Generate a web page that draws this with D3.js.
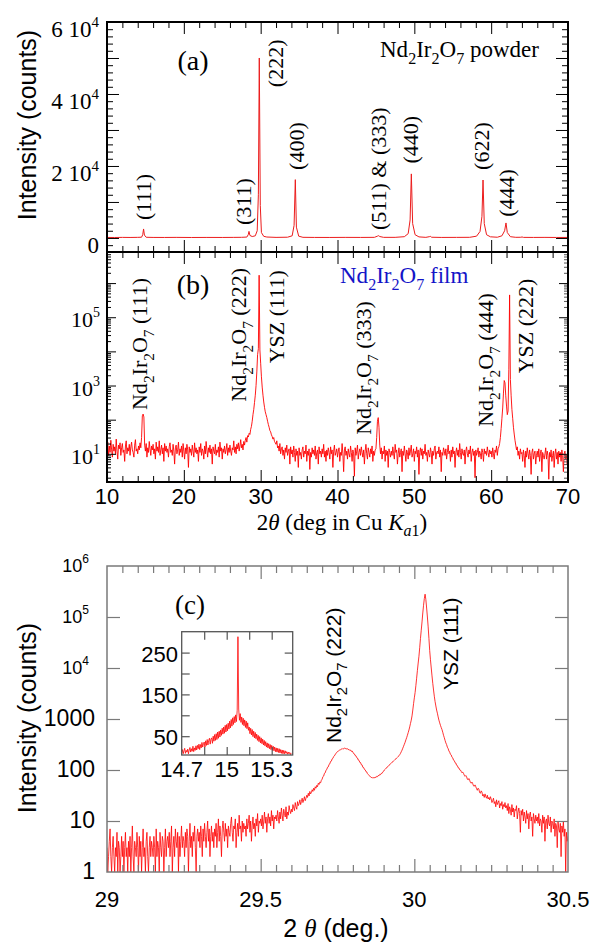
<!DOCTYPE html>
<html>
<head>
<meta charset="utf-8">
<script src="https://cdn.jsdelivr.net/npm/d3@7"></script>
<style>
body { margin: 0; background: #fff; }
</style>
</head>
<body>
<script>
// ---- (a) powder pattern: 2theta (deg) / counts
const powderTheta = [10, 11, 12, 13, 14, 14.5, 14.65, 14.76, 14.87, 15.1, 16, 17.5, 19, 21, 23,
  25, 26.5, 27.5, 28.2, 28.38, 28.48, 28.6, 28.9, 29.3, 29.55, 29.7, 29.82, 29.95, 30.1, 30.4,
  30.8, 32, 33.5, 34.1, 34.35, 34.51, 34.65, 34.95, 35.5, 37, 39, 41, 43, 44.8, 45.2,
  45.35, 45.5, 46, 47.5, 48.7, 49.2, 49.45, 49.61, 49.78, 50.1, 50.6, 51.5, 51.95, 52.08, 52.25,
  53.5, 55.5, 57.2, 58.1, 58.55, 58.8, 58.94, 59.1, 59.4, 59.9, 60.8, 61.4, 61.75, 61.93, 62.1,
  62.5, 63.2, 63.85, 64.02, 64.2, 65.5, 67, 68.5, 70];
const powderCounts = [150, 130, 160, 140, 170, 210, 900, 2500, 800, 190, 150, 140, 160, 130, 150,
  140, 160, 180, 250, 900, 1830, 700, 400, 600, 2000, 12000, 50000, 9000, 1500, 450,
  260, 160, 210, 600, 3500, 16200, 3000, 500, 180, 150, 140, 160, 150, 170, 500,
  640, 400, 170, 170, 350, 1200, 5000, 17800, 4000, 900, 300, 170, 350, 450, 200,
  150, 160, 180, 500, 1800, 6000, 16100, 4000, 900, 320, 200, 600, 2000, 4170, 1500,
  350, 180, 190, 280, 160, 150, 160, 140, 150];

// ---- (b) film scan, 10 -> 70 deg in 0.1 deg steps (one row = 1 deg)
const filmScan = [10, 0.1];
const filmCounts = [
  14, 22, 9, 17, 11, 25, 13, 8, 19, 12,
  16, 10, 27, 12, 7, 18, 14, 21, 9, 15,
  20, 11, 13, 6, 17, 24, 10, 15, 12, 19,
  9, 16, 22, 13, 11, 8, 18, 26, 12, 14,
  10, 17, 13, 21, 15, 30, 130, 146, 120, 18,
  12, 20, 8, 15, 11, 23, 14, 9, 17, 13,
  19, 10, 14, 7, 22, 12, 16, 11, 24, 9,
  13, 18, 10, 15, 6, 20, 12, 17, 11, 14,
  8, 16, 21, 11, 13, 9, 19, 12, 5, 15,
  18, 10, 13, 22, 9, 14, 11, 17, 8, 20,
  12, 7, 15, 10, 19, 13, 4, 16, 11, 14,
  9, 18, 12, 8, 21, 11, 15, 10, 13, 6,
  16, 11, 20, 9, 14, 12, 7, 17, 10, 23,
  13, 8, 15, 11, 18, 10, 14, 5, 16, 12,
  10, 19, 9, 13, 11, 16, 8, 22, 12, 15,
  7, 14, 11, 17, 10, 13, 20, 9, 15, 11,
  18, 12, 9, 15, 13, 24, 11, 16, 10, 19,
  14, 21, 12, 17, 26, 15, 19, 13, 23, 18,
  25, 30, 22, 34, 31, 40, 37, 52, 64, 90,
  140, 200, 320, 520, 1000, 2500, 8000, 12000, 1700000, 11000,
  4500, 1800, 900, 520, 330, 230, 170, 140, 115, 90,
  72, 60, 48, 44, 36, 32, 27, 30, 23, 21,
  19, 24, 15, 17, 12, 20, 10, 14, 16, 9,
  13, 7, 15, 11, 18, 9, 12, 14, 5, 16,
  10, 13, 8, 17, 11, 6, 14, 9, 12, 4,
  15, 9, 11, 7, 13, 16, 8, 12, 10, 18,
  6, 12, 9, 14, 3.5, 11, 8, 15, 10, 13,
  9, 17, 7, 11, 13, 5, 16, 10, 12, 8,
  14, 10, 19, 8, 12, 6, 13, 9, 15, 11,
  7, 16, 10, 13, 4, 12, 18, 9, 11, 14,
  8, 12, 15, 6, 11, 9, 20, 10, 3, 13,
  16, 9, 12, 7, 14, 10, 8, 17, 11, 6,
  13, 10, 2.2, 15, 9, 12, 18, 7, 11, 14,
  9, 16, 11, 8, 13, 5, 12, 19, 10, 7,
  15, 11, 8, 14, 10, 17, 6, 12, 9, 13,
  14, 30, 90, 115, 60, 18, 10, 15, 7, 12,
  10, 17, 6, 13, 9, 12, 4, 14, 11, 8,
  12, 9, 16, 10, 7, 19, 11, 13, 5, 10,
  15, 8, 11, 14, 3, 12, 9, 17, 10, 6,
  13, 11, 7, 15, 9, 12, 18, 8, 10, 14,
  6, 12, 10, 16, 8, 13, 2.5, 11, 15, 9,
  14, 7, 12, 10, 19, 9, 11, 6, 13, 10,
  8, 15, 11, 5, 12, 9, 14, 17, 7, 11,
  12, 10, 16, 8, 13, 3, 11, 9, 15, 12,
  9, 14, 7, 11, 18, 10, 12, 6, 13, 8,
  16, 10, 12, 4, 11, 15, 9, 13, 8, 20,
  11, 7, 14, 10, 9, 13, 5, 12, 16, 10,
  8, 13, 10, 17, 6, 11, 14, 9, 12, 2,
  13, 9, 11, 15, 8, 12, 10, 7, 14, 11,
  6, 14, 10, 12, 9, 16, 11, 8, 13, 10,
  12, 8, 15, 10, 7, 13, 11, 17, 9, 14,
  16, 20, 30, 55, 110, 220, 600, 1400, 1200, 500,
  250, 140, 180, 3000, 450000, 1500, 500, 200, 110, 60,
  38, 25, 18, 13, 16, 9, 12, 7, 14, 10,
  11, 6, 13, 9, 4, 12, 8, 15, 10, 7,
  13, 9, 2.5, 11, 14, 7, 10, 12, 5, 9,
  12, 8, 14, 6, 10, 13, 3, 11, 9, 7,
  10, 15, 7, 12, 9, 1.8, 11, 8, 13, 6,
  9, 12, 4, 10, 14, 7, 11, 5, 12, 8,
  11, 6, 13, 9, 3, 10, 12, 7, 9, 5,
  8];

// ---- (c) fine scan, 29 -> 30.5 deg in 0.0025 deg steps (one row = 0.05 deg)
const fineScan = [29, 0.0025];
const fineCounts = [
  3, 1, 2, 4, 7, 2, 1, 3, 5, 2, 1, 3, 2, 6, 1, 4, 3, 1, 2, 5,
  2, 4, 1, 3, 6, 2, 3, 1, 4, 2, 5, 1, 3, 8, 2, 1, 4, 3, 2, 6,
  3, 1, 5, 2, 4, 1, 3, 7, 2, 3, 1, 4, 6, 2, 1, 3, 5, 2, 4, 3,
  2, 5, 3, 1, 7, 2, 4, 3, 1, 6, 3, 2, 5, 4, 1, 3, 7, 2, 4, 5,
  3, 6, 2, 4, 8, 1, 3, 5, 2, 7, 4, 3, 6, 1, 5, 2, 4, 8, 3, 5,
  4, 2, 6, 3, 7, 5, 1, 4, 9, 3, 5, 2, 6, 4, 8, 3, 1, 5, 7, 4,
  6, 3, 8, 5, 2, 7, 4, 9, 5, 3, 6, 10, 4, 7, 2, 5, 8, 4, 6, 3,
  7, 5, 9, 3, 6, 11, 4, 8, 5, 2, 7, 10, 6, 4, 9, 5, 7, 3, 8, 6,
  5, 9, 12, 6, 4, 8, 7, 11, 3, 6, 9, 5, 13, 7, 8, 4, 10, 6, 9, 7,
  8, 5, 11, 7, 9, 13, 6, 10, 4, 8, 12, 7, 9, 5, 11, 8, 14, 6, 10, 9,
  11, 8, 13, 7, 10, 15, 9, 12, 6, 11, 14, 9, 12, 8, 16, 10, 13, 7, 12, 11,
  13, 10, 16, 12, 9, 15, 11, 18, 13, 10, 17, 14, 12, 19, 11, 15, 13, 20, 16, 14,
  17, 15, 21, 18, 16, 23, 19, 17, 24, 20, 22, 26, 21, 24, 28, 23, 26, 30, 25, 28,
  32, 29, 35, 31, 38, 34, 36, 41, 38, 44, 40, 47, 44, 50, 47, 55, 52, 58, 56, 63,
  66, 74, 76, 86, 88, 99, 102, 113, 115, 129, 132, 147, 149, 165, 169, 184, 189, 203, 209, 222,
  228, 236, 240, 248, 250, 258, 255, 265, 260, 268, 262, 266, 258, 262, 250, 254, 242, 246, 232, 236,
  224, 210, 207, 192, 190, 175, 172, 157, 155, 141, 140, 127, 126, 113, 112, 103, 101, 93, 92, 85,
  82, 79, 75, 74, 71, 72, 69, 71, 70, 73, 71, 75, 74, 78, 77, 82, 81, 86, 86, 91,
  95, 100, 103, 108, 110, 116, 118, 124, 127, 133, 136, 142, 145, 151, 155, 161, 165, 172, 177, 184,
  190, 200, 212, 228, 245, 268, 292, 320, 350, 390, 430, 480, 540, 610, 700, 820, 950, 1150, 1500, 2000,
  2600, 3300, 4500, 6300, 9000, 12500, 17000, 25000, 38000, 55000,
  80000, 120000, 170000, 230000, 280000, 220000, 150000, 100000, 64000, 38000,
  22000, 14500, 10000, 7000, 5000, 3700, 2800, 2200, 1800, 1500,
  1300, 1100, 950, 840, 750, 680, 620, 550, 480, 430,
  380, 340, 315, 280, 263, 236, 224, 203, 198, 178, 173, 156, 153, 139, 137, 124, 122, 111, 110, 101,
  100, 94, 88, 91, 86, 79, 75, 78, 74, 66, 64, 68, 63, 57, 55, 58, 54, 49, 48, 51,
  47, 43, 40, 44, 42, 36, 35, 39, 37, 31, 33, 29, 34, 30, 28, 32, 27, 29, 26, 30,
  27, 23, 25, 28, 22, 24, 19, 26, 21, 23, 25, 18, 22, 20, 24, 17, 21, 19, 23, 18,
  20, 16, 22, 14, 19, 17, 13, 21, 15, 18, 12, 17, 16, 20, 11, 15, 18, 14, 6, 16,
  13, 17, 10, 15, 12, 9, 16, 11, 14, 7, 13, 15, 10, 12, 5, 14, 11, 9, 13, 10,
  12, 9, 14, 8, 11, 10, 6, 13, 9, 12, 4, 10, 11, 7, 13, 9, 8, 12, 6, 10,
  9, 7, 11, 5, 9, 8, 3, 10, 7, 6, 9, 2, 8, 6, 10, 5, 7, 1, 6, 4,
  5];

// ---- inset of (c): 14.7 -> 15.43 deg in 0.005 deg steps (linear counts)
const insetScan = [14.7, 0.005];
const insetCounts = [
  10, 18, 8, 15, 21, 9, 16, 12, 19, 8,
  17, 23, 12, 20, 14, 26, 13, 22, 16, 27,
  17, 28, 20, 31, 18, 30, 22, 35, 24, 32,
  36, 24, 39, 28, 42, 29, 40, 45, 31, 43,
  46, 33, 50, 38, 54, 40, 56, 42, 60, 45,
  62, 48, 65, 52, 69, 55, 72, 57, 76, 60,
  78, 63, 81, 67, 86, 70, 90, 74, 94, 78,
  97, 82, 101, 85, 112, 288, 115, 88, 104, 83,
  96, 78, 93, 75, 89, 71, 86, 68, 82, 64,
  72, 56, 69, 53, 66, 49, 62, 46, 59, 44,
  55, 40, 52, 37, 49, 34, 46, 32, 43, 29,
  40, 27, 37, 24, 34, 22, 32, 20, 30, 18,
  28, 16, 26, 15, 24, 13, 22, 12, 21, 11,
  20, 10, 18, 9, 17, 8, 16, 8, 15, 9,
  13, 7, 12, 8, 11, 6, 10];

// tick labels
const powderYTicks = [0, 20000, 40000, 60000];
const filmYTicks = [1e1, 1e3, 1e5];
const thetaTicks = [10, 20, 30, 40, 50, 60, 70];
const fineYPlain = [1, 10, 100, 1000];
const fineYPow = [1e4, 1e5, 1e6];
const fineXTicks = [29, 29.5, 30, 30.5];
const insetXTicks = [14.7, 15, 15.3];
const insetYTicks = [50, 150, 250];

// peak annotations [text, 2theta, counts] (text starts at that point, reading upward)
const powderLabels = [["(111)", 15.73, 4990], ["(311)", 28.74, 3600], ["(222)", 32.87, 41900],
  ["(400)", 35.64, 18900], ["(511) & (333)", 46.31, 2200], ["(440)", 50.44, 20700],
  ["(622)", 59.68, 18900], ["(444)", 63.01, 5900]];
const filmLabels = [["Nd2Ir2O7", "(111)", 15.21, 192], ["Nd2Ir2O7", "(222)", 28.09, 336],
  ["YSZ", "(111)", 33.1, 4480], ["Nd2Ir2O7", "(333)", 44.36, 36],
  ["Nd2Ir2O7", "(444)", 60.24, 62], ["YSZ", "(222)", 65.45, 2280]];
const fineLabels = [["Nd2Ir2O7", "(222)", 29.761, 338], ["YSZ", "(111)", 30.142, 3700]];

const SERIF = '"Liberation Serif", "Times New Roman", serif';
const SANS = '"Liberation Sans", Arial, sans-serif';

const scan = (s, vals) => vals.map((v, i) => [s[0] + i * s[1], v]);

const svg = d3.select("body").append("svg")
  .attr("width", 591).attr("height", 951);

// scales
const x1 = d3.scaleLinear().domain([10, 70]).range([107, 568]);
const yA = d3.scaleLinear().domain([-3900, 60000]).range([252, 22]);
const yB = d3.scaleLog().domain([1.496, 8.13e6]).range([482, 252]);
const xC = d3.scaleLinear().domain([29, 30.5]).range([107, 568]);
const yC = d3.scaleLog().domain([1, 1e6]).range([872, 566]);
const xI = d3.scaleLinear().domain([14.7, 15.44]).range([181.7, 292.7]);
const yI = d3.scaleLinear().domain([5, 300]).range([755, 631.7]);

function ticks(axis, scale, values, size, at, color, w) {
  const g = svg.append("g").attr("transform", at)
    .call(axis(scale).tickValues(values).tickSize(size).tickFormat(""));
  g.select(".domain").remove();
  g.selectAll("line").attr("stroke", color).attr("stroke-width", w);
}

function clip(id, x, y, w, h) {
  svg.append("clipPath").attr("id", id).append("rect")
    .attr("x", x).attr("y", y).attr("width", w).attr("height", h);
}

function trace(pts, sx, sy, clipId, color, w) {
  svg.append("path").datum(pts)
    .attr("clip-path", `url(#${clipId})`)
    .attr("fill", "none").attr("stroke", color).attr("stroke-width", w)
    .attr("stroke-linejoin", "round")
    .attr("d", d3.line().x(d => sx(d[0])).y(d => sy(d[1])));
}

function text(x, y, size, family, rotate) {
  const t = svg.append("text").attr("x", x).attr("y", y)
    .attr("font-size", size).attr("font-family", family);
  if (rotate) t.attr("transform", `rotate(-90,${x},${y})`);
  return t;
}

// writes "Nd2Ir2O7" style names with subscript digits
function chem(t, name, size) {
  let down = false;
  name.match(/[A-Za-z]+|\d+/g).forEach(p => {
    const s = t.append("tspan").text(p);
    if (/\d/.test(p)) {
      s.attr("font-size", size * 0.7);
      if (!down) s.attr("dy", size * 0.3);
      down = true;
    } else if (down) {
      s.attr("dy", -size * 0.3);
      down = false;
    }
  });
  return down;
}

// ================= panel (a) =================
clip("clipA", 107, 22, 461, 230);
trace(powderTheta.map((t, i) => [t, powderCounts[i]]), x1, yA, "clipA", "#ec1c1c", 1);

const xMinor = d3.range(12, 70, 2).filter(v => v % 10);
const xMajor = [20, 30, 40, 50, 60];
ticks(d3.axisTop, x1, xMinor, -6, "translate(0,22)", "#000", 1);
ticks(d3.axisTop, x1, xMajor, -12, "translate(0,22)", "#000", 1);
ticks(d3.axisBottom, x1, xMinor, -6, "translate(0,252)", "#000", 1);
ticks(d3.axisBottom, x1, xMajor, -12, "translate(0,252)", "#000", 1);
const yMinorA = d3.range(-2000, 60000, 2000).filter(v => v % 10000);
const yMajorA = d3.range(0, 60000, 10000);
ticks(d3.axisLeft, yA, yMinorA, -6, "translate(107,0)", "#000", 1);
ticks(d3.axisLeft, yA, yMajorA, -12, "translate(107,0)", "#000", 1);
ticks(d3.axisRight, yA, yMinorA, -6, "translate(568,0)", "#000", 1);
ticks(d3.axisRight, yA, yMajorA, -12, "translate(568,0)", "#000", 1);

powderYTicks.forEach(v => {
  const t = text(99, yA(v) + 15, 23, SERIF).attr("text-anchor", "end");
  if (v === 0) t.text("0");
  else {
    t.append("tspan").text(`${v / 1e4} 10`);
    t.append("tspan").attr("font-size", 15).attr("dy", -10).text("4");
  }
});

powderLabels.forEach(([s, th, c]) => text(x1(th), yA(c), 22, SERIF, true).text(s));
text(193, 70, 28, SERIF).attr("text-anchor", "middle").text("(a)");
{
  const t = text(380, 57, 23, SERIF);
  chem(t, "Nd2Ir2O7", 23);
  t.append("tspan").attr("dy", -23 * 0.3).text(" powder");
}

// ================= panel (b) =================
clip("clipB", 107, 252, 461, 230);
trace(scan(filmScan, filmCounts), x1, yB, "clipB", "#ff0000", 0.9);

ticks(d3.axisTop, x1, xMinor, -6, "translate(0,252)", "#000", 1);
ticks(d3.axisTop, x1, xMajor, -12, "translate(0,252)", "#000", 1);
ticks(d3.axisBottom, x1, xMinor, -6, "translate(0,482)", "#000", 1);
ticks(d3.axisBottom, x1, xMajor, -12, "translate(0,482)", "#000", 1);
const decB = [1e1, 1e2, 1e3, 1e4, 1e5, 1e6];
const minorB = [];
for (let d = 0; d <= 6; d++) for (let m = 2; m <= 9; m++) {
  const v = m * Math.pow(10, d);
  if (v > 1.5 && v < 8e6) minorB.push(v);
}
ticks(d3.axisLeft, yB, minorB, -4, "translate(107,0)", "#000", 1);
ticks(d3.axisLeft, yB, decB, -9, "translate(107,0)", "#000", 1);
ticks(d3.axisRight, yB, minorB, -4, "translate(568,0)", "#555", 1);
ticks(d3.axisRight, yB, decB, -9, "translate(568,0)", "#000", 1);

filmYTicks.forEach(v => {
  const t = text(100, yB(v) + 10, 22, SERIF).attr("text-anchor", "end");
  t.append("tspan").text("10");
  t.append("tspan").attr("font-size", 14).attr("dy", -10).text(Math.round(Math.log10(v)));
});
thetaTicks.forEach(v => text(x1(v), 504, 22, SANS).attr("text-anchor", "middle").text(v));

filmLabels.forEach(([name, hkl, th, c]) => {
  const t = text(x1(th), yB(c), 22, SERIF, true);
  const down = chem(t, name, 22);
  const s = t.append("tspan").text(" " + hkl);
  if (down) s.attr("dy", -22 * 0.3);
});
text(193, 294, 28, SERIF).attr("text-anchor", "middle").text("(b)");
{
  const t = text(340, 283, 23, SERIF).attr("fill", "#1414c8");
  chem(t, "Nd2Ir2O7", 23);
  t.append("tspan").attr("dy", -23 * 0.3).text(" film");
}
{
  const t = text(342, 530, 23, SERIF).attr("text-anchor", "middle");
  t.append("tspan").text("2");
  t.append("tspan").attr("font-style", "italic").text("\u03B8");
  t.append("tspan").text("  (deg in Cu ");
  t.append("tspan").attr("font-style", "italic").text("K");
  t.append("tspan").attr("font-style", "italic").attr("font-size", 16).attr("dy", 6).text("a");
  t.append("tspan").attr("font-size", 16).text("1");
  t.append("tspan").attr("dy", -6).text(")");
}
text(36, 125, 25, SANS, true).attr("text-anchor", "middle").text("Intensity (counts)");

// frames for (a) and (b)
svg.append("rect").attr("x", 107).attr("y", 22).attr("width", 461).attr("height", 230)
  .attr("fill", "none").attr("stroke", "#000").attr("stroke-width", 2);
svg.append("rect").attr("x", 107).attr("y", 252).attr("width", 461).attr("height", 230)
  .attr("fill", "none").attr("stroke", "#000").attr("stroke-width", 2);

// ================= panel (c) =================
const GREY = "#7a7a7a";
clip("clipC", 107, 566, 461, 306);
trace(scan(fineScan, fineCounts), xC, yC, "clipC", "#ff0000", 0.8);

const xMinorC = d3.range(1, 30).filter(i => i !== 10 && i !== 20).map(i => 29 + i * 0.05);
ticks(d3.axisTop, xC, xMinorC, -7, "translate(0,566)", GREY, 1.2);
ticks(d3.axisTop, xC, [29.5, 30], -13, "translate(0,566)", GREY, 1.2);
ticks(d3.axisBottom, xC, xMinorC, -7, "translate(0,872)", GREY, 1.2);
ticks(d3.axisBottom, xC, [29.5, 30], -13, "translate(0,872)", GREY, 1.2);
const decC = [10, 100, 1000, 1e4, 1e5];
ticks(d3.axisLeft, yC, decC, -13, "translate(107,0)", GREY, 1.2);
ticks(d3.axisRight, yC, decC, -13, "translate(568,0)", GREY, 1.2);
svg.append("rect").attr("x", 107).attr("y", 566).attr("width", 461).attr("height", 306)
  .attr("fill", "none").attr("stroke", GREY).attr("stroke-width", 1.5);

fineYPlain.forEach(v => text(95, yC(v) + 7, 23, SANS).attr("text-anchor", "end").text(v));
fineYPow.forEach(v => {
  const t = text(89, yC(v) + 6, 18, SANS).attr("text-anchor", "end");
  t.append("tspan").text("10");
  t.append("tspan").attr("font-size", 12).attr("dy", -9).text(Math.round(Math.log10(v)));
});
fineXTicks.forEach(v => text(xC(v), 907, 22, SANS).attr("text-anchor", "middle").text(v));

fineLabels.forEach(([name, hkl, th, c]) => {
  const t = text(xC(th), yC(c), 21, SANS, true);
  const down = chem(t, name, 21);
  const s = t.append("tspan").text(" " + hkl);
  if (down) s.attr("dy", -21 * 0.3);
});
text(190, 614, 27, SERIF).attr("text-anchor", "middle").text("(c)");
text(36, 718, 25, SANS, true).attr("text-anchor", "middle").text("Intensity (counts)");
{
  const t = text(336, 937, 25, SANS).attr("text-anchor", "middle");
  t.append("tspan").text("2 ");
  t.append("tspan").attr("font-style", "italic").attr("font-family", SERIF).text("\u03B8");
  t.append("tspan").text(" (deg.)");
}

// ---- inset
const INK = "#555";
svg.append("rect").attr("x", 181.7).attr("y", 631.7).attr("width", 111).attr("height", 123.3)
  .attr("fill", "#fff");
clip("clipI", 181.7, 631.7, 111, 123.3);
trace(scan(insetScan, insetCounts), xI, yI, "clipI", "#ff0000", 0.8);
const xTickI = [14.85, 15, 15.15, 15.3];
const yTickI = [50, 100, 150, 200, 250];
ticks(d3.axisTop, xI, xTickI, -8, "translate(0,631.7)", INK, 1.2);
ticks(d3.axisBottom, xI, xTickI, -8, "translate(0,755)", INK, 1.2);
ticks(d3.axisLeft, yI, yTickI, -8, "translate(181.7,0)", INK, 1.2);
ticks(d3.axisRight, yI, yTickI, -8, "translate(292.7,0)", INK, 1.2);
svg.append("rect").attr("x", 181.7).attr("y", 631.7).attr("width", 111).attr("height", 123.3)
  .attr("fill", "none").attr("stroke", INK).attr("stroke-width", 1.3);
insetYTicks.forEach(v => text(178, yI(v) + 9, 22, SANS).attr("text-anchor", "end").text(v));
insetXTicks.forEach(v => text(xI(v), 777, 22, SANS).attr("text-anchor", "middle").text(v));
</script>
</body>
</html>
